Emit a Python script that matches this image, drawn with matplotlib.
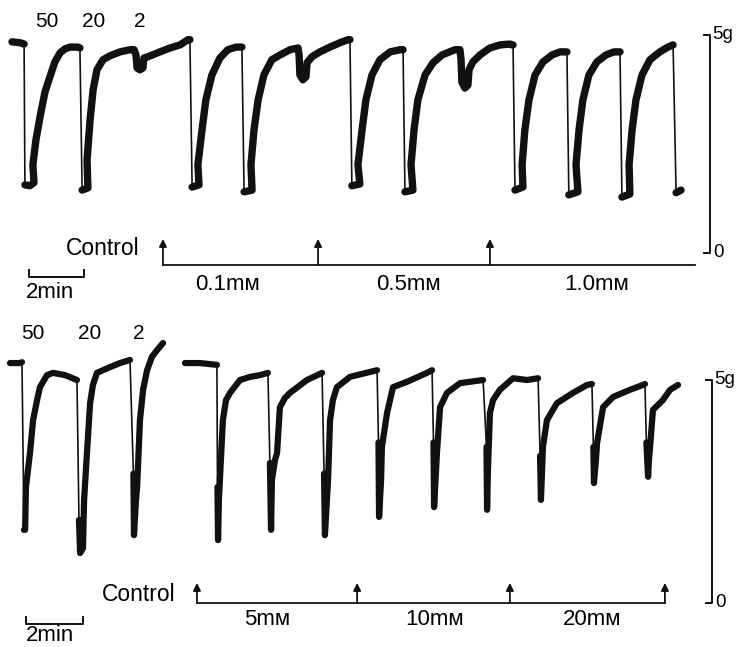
import matplotlib.pyplot as plt

plt.rcParams['font.family'] = ['Liberation Sans', 'DejaVu Sans']

ink = '#111111'

# ---- top recording: time (min), tension (g); each inner list is one thick pen stroke
top_control = [
    [(0.00, 4.84), (0.29, 4.82), (0.44, 4.79)],
    [(0.47, 1.56), (0.65, 1.54), (0.80, 1.61), (0.76, 2.02), (0.87, 2.59), (1.02, 3.12),
     (1.20, 3.69), (1.38, 4.04), (1.56, 4.38), (1.75, 4.59), (1.93, 4.68), (2.11, 4.72),
     (2.40, 4.72), (2.47, 4.70)],
    [(2.55, 1.44), (2.76, 1.49), (2.73, 2.13), (2.84, 3.05), (2.95, 3.74), (3.09, 4.20),
     (3.31, 4.43), (3.56, 4.52), (3.93, 4.61), (4.29, 4.66), (4.44, 4.66), (4.51, 4.54),
     (4.55, 4.24), (4.65, 4.20), (4.76, 4.24), (4.80, 4.47), (4.95, 4.50), (5.38, 4.61),
     (5.75, 4.70), (6.11, 4.77), (6.40, 4.89), (6.47, 4.89)],
]
top_01mM = [
    [(6.55, 1.51), (6.80, 1.56), (6.76, 2.02), (6.91, 2.82), (7.05, 3.51), (7.27, 4.08),
     (7.56, 4.47), (7.85, 4.66), (8.15, 4.72), (8.36, 4.72)],
    [(8.44, 1.40), (8.73, 1.44), (8.69, 2.02), (8.80, 2.82), (8.95, 3.51), (9.16, 4.08),
     (9.45, 4.43), (9.75, 4.54), (10.11, 4.66), (10.40, 4.70), (10.44, 4.54), (10.47, 4.08),
     (10.58, 3.97), (10.69, 4.04), (10.73, 4.36), (10.91, 4.50), (11.20, 4.61),
     (11.56, 4.72), (11.93, 4.82), (12.22, 4.89), (12.29, 4.89)],
]
top_05mM = [
    [(12.36, 1.54), (12.65, 1.58), (12.58, 2.02), (12.73, 2.82), (12.87, 3.51), (13.09, 4.08),
     (13.38, 4.43), (13.75, 4.61), (14.11, 4.66), (14.22, 4.66)],
    [(14.29, 1.40), (14.58, 1.44), (14.51, 2.02), (14.62, 2.82), (14.76, 3.51), (15.02, 4.08),
     (15.31, 4.36), (15.64, 4.54), (16.11, 4.66), (16.29, 4.66), (16.33, 4.43), (16.36, 3.92),
     (16.47, 3.78), (16.58, 3.85), (16.62, 4.20), (16.76, 4.38), (17.02, 4.54),
     (17.38, 4.70), (17.75, 4.77), (18.11, 4.79), (18.18, 4.77), (18.22, 4.77)],
]
top_10mM = [
    [(18.29, 1.44), (18.58, 1.51), (18.55, 2.02), (18.65, 2.82), (18.80, 3.51), (19.02, 4.08),
     (19.31, 4.38), (19.64, 4.54), (19.93, 4.61), (20.15, 4.61), (20.18, 4.61)],
    [(20.25, 1.33), (20.58, 1.40), (20.51, 2.02), (20.62, 2.82), (20.76, 3.51), (20.98, 4.08),
     (21.27, 4.38), (21.60, 4.54), (21.89, 4.61), (22.07, 4.61), (22.11, 4.61)],
    [(22.18, 1.28), (22.47, 1.35), (22.44, 2.02), (22.55, 2.82), (22.69, 3.51), (22.91, 4.08),
     (23.20, 4.43), (23.56, 4.61), (23.85, 4.72), (24.04, 4.77)],
    [(24.15, 1.38), (24.33, 1.44)],
]
top_arrows = [5.49, 11.13, 17.38]
top_doses = ['0.1mᴍ', '0.5mᴍ', '1.0mᴍ']
top_dose_t = [7.85, 14.40, 21.27]

# ---- bottom recording
bottom_calib = [
    [(0.00, 5.38), (0.35, 5.38), (0.42, 5.40)],
    [(0.49, 1.64), (0.53, 1.64), (0.56, 2.60), (0.70, 3.36), (0.81, 4.10), (0.95, 4.55),
     (1.05, 4.84), (1.30, 5.11), (1.51, 5.16), (1.93, 5.11), (2.35, 5.00)],
    [(2.42, 1.86), (2.46, 1.12), (2.56, 1.23), (2.60, 2.31), (2.70, 3.36), (2.81, 4.48),
     (2.91, 4.89), (3.05, 5.16), (3.51, 5.29), (3.86, 5.38), (4.21, 5.45)],
    [(4.33, 2.90), (4.35, 1.52), (4.42, 2.31), (4.46, 2.60), (4.56, 4.10), (4.67, 4.78),
     (4.81, 5.22), (4.98, 5.52), (5.16, 5.67), (5.37, 5.83)],
]
bottom_5mM = [
    [(6.14, 5.38), (6.67, 5.38), (7.26, 5.34)],
    [(7.28, 2.60), (7.30, 1.41), (7.33, 2.31), (7.40, 3.21), (7.47, 4.10), (7.58, 4.55),
     (7.72, 4.71), (8.07, 5.00), (8.42, 5.07), (8.77, 5.11), (9.05, 5.16)],
    [(9.12, 3.14), (9.16, 1.64), (9.19, 2.76), (9.30, 3.21), (9.37, 3.36), (9.47, 4.39),
     (9.65, 4.60), (9.82, 4.71), (10.42, 5.00), (10.95, 5.16)],
    [(11.02, 2.90), (11.05, 1.52), (11.12, 2.31), (11.16, 2.76), (11.23, 4.10), (11.33, 4.55),
     (11.47, 4.84), (11.93, 5.07), (12.88, 5.22)],
]
bottom_10mM = [
    [(12.93, 3.60), (12.95, 1.93), (13.02, 2.76), (13.05, 3.50), (13.23, 4.26), (13.44, 4.84),
     (13.93, 4.96), (14.63, 5.16), (14.81, 5.22)],
    [(14.86, 3.60), (14.88, 2.15), (14.95, 2.98), (14.98, 3.36), (15.09, 4.39), (15.33, 4.71),
     (15.79, 4.93), (16.60, 5.00)],
    [(16.72, 3.50), (16.74, 2.09), (16.77, 2.98), (16.84, 4.26), (16.95, 4.55), (17.19, 4.78),
     (17.65, 5.04), (18.14, 5.00), (18.53, 5.04)],
]
bottom_20mM = [
    [(18.60, 3.30), (18.63, 2.31), (18.67, 2.98), (18.70, 3.50), (18.84, 4.10), (19.19, 4.48),
     (19.75, 4.71), (20.25, 4.89), (20.42, 4.91)],
    [(20.47, 3.50), (20.49, 2.69), (20.56, 3.21), (20.60, 3.59), (20.81, 4.39), (21.16, 4.62),
     (21.75, 4.78), (22.21, 4.89), (22.28, 4.91)],
    [(22.33, 3.60), (22.39, 2.83), (22.42, 3.21), (22.46, 3.50), (22.56, 4.33), (22.91, 4.55),
     (23.16, 4.78), (23.44, 4.89)],
]
bottom_arrows = [6.56, 12.18, 17.54, 22.98]
bottom_doses = ['5mᴍ', '10mᴍ', '20mᴍ']
bottom_dose_t = [9.02, 14.91, 20.42]

stim_labels = ['50', '20', '2']


def draw_run(ax, strokes, lw):
    pts = [p for s in strokes for p in s]
    t, g = zip(*pts)
    ax.plot(t, g, color=ink, lw=1.2, solid_joinstyle='round')
    for s in strokes:
        t, g = zip(*s)
        ax.plot(t, g, color=ink, lw=lw, solid_capstyle='round', solid_joinstyle='round')


def draw_arrows(ax, times, base, top, end):
    ax.plot([times[0], end], [base, base], color=ink, lw=1.3)
    for t in times:
        ax.annotate('', xy=(t, top), xytext=(t, base),
                    arrowprops=dict(arrowstyle='-|>', lw=1.3, color=ink,
                                    mutation_scale=11, shrinkA=0, shrinkB=0))


def scale_bars(ax, xg, min_x0, min_y, min_lab_y, lab_x):
    ax.plot([xg - 0.22, xg, xg, xg - 0.22], [5, 5, 0, 0], color=ink, lw=1.4)
    ax.text(xg + 0.08, 5.02, '5g', fontsize=13.5, va='center', ha='left')
    ax.text(xg + 0.12, 0.0, '0', fontsize=13.5, va='center', ha='left')
    ax.plot([min_x0, min_x0, min_x0 + 2, min_x0 + 2],
            [min_y + 0.16, min_y, min_y, min_y + 0.16], color=ink, lw=1.4)
    ax.text(lab_x, min_lab_y, '2min', fontsize=16, ha='center', va='center')


fig = plt.figure(figsize=(7.41, 6.47), dpi=100)
ax_top = fig.add_axes([0, 1 - 310 / 647, 1, 310 / 647])
ax_bot = fig.add_axes([0, 0, 1, 337 / 647])
ax_top.set_xlim(-0.436, 26.51)
ax_top.set_ylim(-1.31, 5.80)
ax_bot.set_xlim(-0.351, 25.65)
ax_bot.set_ylim(-0.987, 6.57)
for ax in (ax_top, ax_bot):
    ax.axis('off')

# top panel
draw_run(ax_top, top_control + top_01mM + top_05mM + top_10mM, 5.3)
draw_arrows(ax_top, top_arrows, -0.275, 0.32, 24.84)
for lab, t in zip(stim_labels, [1.27, 2.98, 4.65]):
    ax_top.text(t, 5.30, lab, fontsize=15, ha='center', va='center')
ax_top.text(4.62, 0.11, 'Control', fontsize=16.5, ha='right', va='center')
for lab, t in zip(top_doses, top_dose_t):
    ax_top.text(t, -0.73, lab, fontsize=16, ha='center', va='center')
scale_bars(ax_top, 25.38, 0.62, -0.55, -0.92, 1.38)

# bottom panel
draw_run(ax_bot, bottom_calib, 4.5)
draw_run(ax_bot, bottom_5mM + bottom_10mM + bottom_20mM, 4.5)
draw_arrows(ax_bot, bottom_arrows, 0.0, 0.45, bottom_arrows[-1])
for lab, t in zip(stim_labels, [0.81, 2.81, 4.53]):
    ax_bot.text(t, 6.05, lab, fontsize=15, ha='center', va='center')
ax_bot.text(5.80, 0.18, 'Control', fontsize=16.5, ha='right', va='center')
for lab, t in zip(bottom_doses, bottom_dose_t):
    ax_bot.text(t, -0.38, lab, fontsize=16, ha='center', va='center')
scale_bars(ax_bot, 24.63, 0.56, -0.47, -0.72, 1.40)

fig.savefig('out.png', dpi=100)
